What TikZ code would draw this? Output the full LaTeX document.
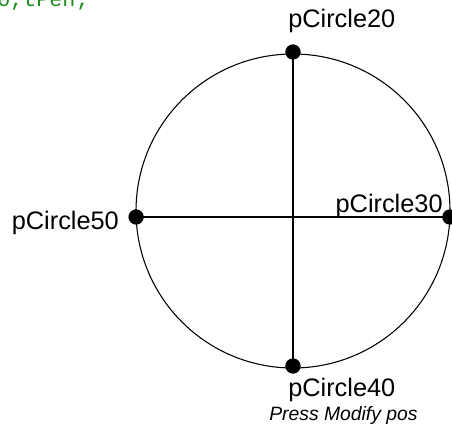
\documentclass[tikz,border=0pt]{standalone}
\usepackage{fontspec}
\setmainfont{Liberation Sans}
\newfontfamily\codefont{Liberation Mono}
\usepackage{xcolor}
\definecolor{lineDark}{HTML}{000000}
\definecolor{codeGreen}{RGB}{30,140,30}
\usepackage{tikz}
\usetikzlibrary{positioning,calc}
\tikzset{%
  pointDot/.style={%
    circle,
    fill=lineDark,
    inner sep=0pt,
    minimum size=11.5pt
  },
  axisLine/.style={%
    line width=0.8pt,
    color=lineDark
  },
  pointLabel/.style={%
    inner sep=0pt,
    font=\fontsize{19}{21}\selectfont
  },
  hintLabel/.style={%
    inner sep=0pt,
    font=\fontsize{14.5}{16}\selectfont\itshape
  },
  codeLine/.style={%
    inner sep=0pt,
    text=codeGreen,
    font=\codefont\fontsize{16.3}{18}\selectfont
  }
}

\begin{document}
\begin{tikzpicture}[x=0.75pt,y=0.75pt]
            \useasboundingbox (0,0) rectangle (452,431);
            \clip (0,0) rectangle (452,431);

            % circle and the four points on it
            \coordinate (middle) at (293,220);
            \draw[axisLine] (middle) circle (157);

            \node[pointDot] (c20) at (293,379) {};
            \node[pointDot] (c40) at (293,65) {};
            \node[pointDot] (c50) at (136.1,214) {};
            \node[pointDot] (c30) at (449.9,214) {};

            \draw[axisLine] (c20.center) -- (c40.center);
            \draw[axisLine] (c50.center) -- (c30.center);

            % labels
            \node[pointLabel, anchor=base west] (t20) at ($(c20)+(-5,24)$) {pCircle20};
            \node[pointLabel, anchor=base east] (t30) at ($(c30)+(-7,4)$) {pCircle30};
            \node[pointLabel, anchor=base west] (t40) at ($(c40)+(-5,-30)$) {pCircle40};
            \node[pointLabel, anchor=base east] (t50) at ($(c50)+(-17,-13)$) {pCircle50};
            \node[hintLabel, anchor=base west] (hint) at ($(c40)+(-24,-54)$) {Press Modify pos};

            \node[codeLine, anchor=base west] (code) at (-3,424) {0,tPen;};
        \end{tikzpicture}
\end{document}
